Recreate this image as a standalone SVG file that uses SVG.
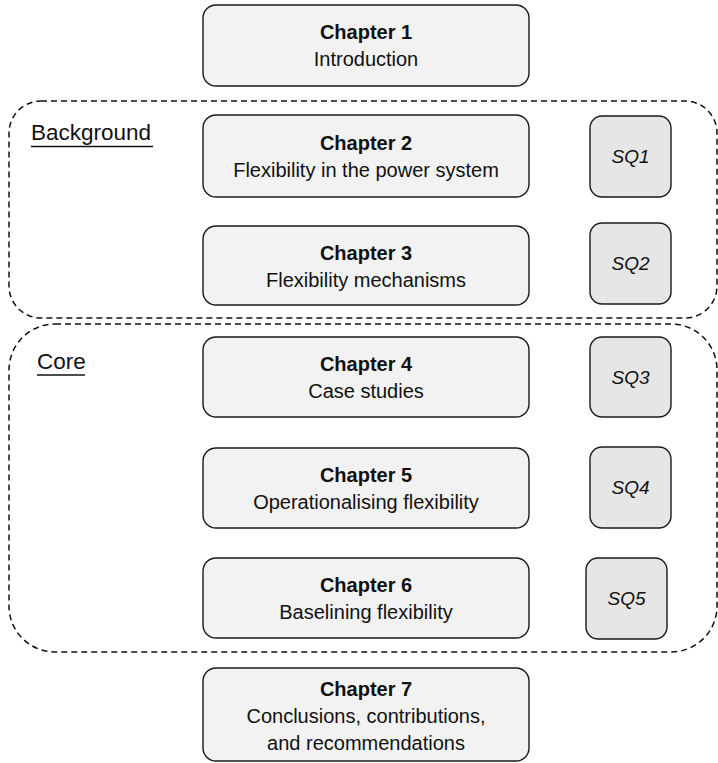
<svg xmlns="http://www.w3.org/2000/svg" width="718" height="763" viewBox="0 0 718 763">
<style>
.ch{fill:#f2f2f2;stroke:#1a1a1a;stroke-width:1.4}
.sq{fill:#e6e6e6;stroke:#1a1a1a;stroke-width:1.4}
.grp{fill:none;stroke:#111;stroke-width:1.5;stroke-dasharray:6 4}
text{font-family:"Liberation Sans",Arial,sans-serif;fill:#111}
.t{font-size:20px;text-anchor:middle}
.b{font-weight:bold}
.s{font-size:19px;font-style:italic;text-anchor:middle}
.lbl{font-size:22.5px}
.ul{stroke:#111;stroke-width:1.6}
</style>
<rect width="718" height="763" fill="#fff"/>
<g id="group-background">
<rect class="grp" x="9" y="101" width="708" height="217" rx="32" ry="32"/>
<text class="lbl" x="31" y="140">Background</text>
<line class="ul" x1="31" y1="146.5" x2="153" y2="146.5"/>
</g>
<g id="group-core">
<rect class="grp" x="9" y="324" width="708" height="328" rx="46" ry="46"/>
<text class="lbl" x="37" y="369">Core</text>
<line class="ul" x1="37" y1="375" x2="85" y2="375"/>
</g>
<g id="ch1"><rect class="ch" x="203" y="5" width="326" height="81" rx="13"/>
<text class="t b" x="366" y="39">Chapter 1</text><text class="t" x="366" y="66">Introduction</text></g>
<g id="ch2"><rect class="ch" x="203" y="115" width="326" height="82" rx="13"/>
<text class="t b" x="366" y="150">Chapter 2</text><text class="t" x="366" y="177">Flexibility in the power system</text></g>
<g id="ch3"><rect class="ch" x="203" y="226" width="326" height="79" rx="13"/>
<text class="t b" x="366" y="260">Chapter 3</text><text class="t" x="366" y="287">Flexibility mechanisms</text></g>
<g id="ch4"><rect class="ch" x="203" y="337" width="326" height="80" rx="13"/>
<text class="t b" x="366" y="371">Chapter 4</text><text class="t" x="366" y="398">Case studies</text></g>
<g id="ch5"><rect class="ch" x="203" y="448" width="326" height="80" rx="13"/>
<text class="t b" x="366" y="482">Chapter 5</text><text class="t" x="366" y="509">Operationalising flexibility</text></g>
<g id="ch6"><rect class="ch" x="203" y="558" width="326" height="80" rx="13"/>
<text class="t b" x="366" y="592">Chapter 6</text><text class="t" x="366" y="619">Baselining flexibility</text></g>
<g id="ch7"><rect class="ch" x="203" y="668" width="326" height="93" rx="13"/>
<text class="t b" x="366" y="696">Chapter 7</text><text class="t" x="366" y="723">Conclusions, contributions,</text><text class="t" x="366" y="750">and recommendations</text></g>
<g id="sq1"><rect class="sq" x="590" y="116" width="81" height="81" rx="12"/><text class="s" x="630.5" y="163">SQ1</text></g>
<g id="sq2"><rect class="sq" x="590" y="223" width="81" height="81" rx="12"/><text class="s" x="630.5" y="270">SQ2</text></g>
<g id="sq3"><rect class="sq" x="590" y="337" width="81" height="80" rx="12"/><text class="s" x="630.5" y="384">SQ3</text></g>
<g id="sq4"><rect class="sq" x="590" y="447" width="81" height="81" rx="12"/><text class="s" x="630.5" y="494">SQ4</text></g>
<g id="sq5"><rect class="sq" x="586" y="558" width="81" height="81" rx="12"/><text class="s" x="626.5" y="605">SQ5</text></g>
<g id="connectors"></g>
</svg>
